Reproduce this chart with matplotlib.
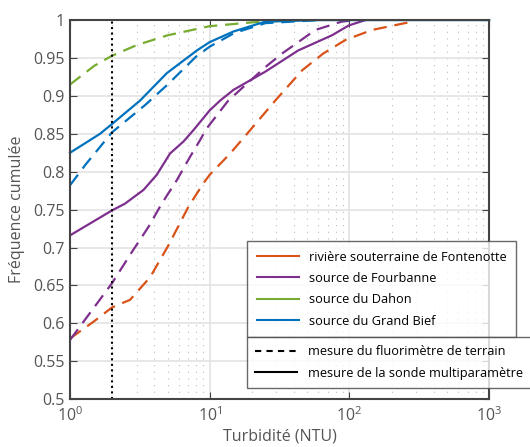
import numpy as np
import matplotlib.pyplot as plt
from matplotlib.lines import Line2D

plt.rcParams['font.family'] = ['Open Sans', 'DejaVu Sans']

# couleurs des sites
c_font = '#D95319'
c_fourb = '#7E2F8E'
c_dahon = '#77AC30'
c_gbief = '#0072BD'

# rivière souterraine de Fontenotte (fluorimètre)
font_x = [1, 1.47, 2, 2.69, 3.75, 5.07, 7.05, 9.03, 10, 14, 18.5, 29.5, 46, 65, 94, 145, 281]
font_y = [0.58, 0.602, 0.621, 0.631, 0.661, 0.703, 0.754, 0.785, 0.796, 0.824, 0.85, 0.894, 0.934, 0.956, 0.974, 0.987, 0.998]

# source de Fourbanne
fourb_x = [1, 2, 2.48, 3.36, 4.18, 5.2, 6.5, 7.66, 10, 11.9, 14.8, 25, 43, 75, 99, 130]
fourb_y = [0.716, 0.749, 0.758, 0.776, 0.796, 0.824, 0.84, 0.855, 0.881, 0.894, 0.908, 0.932, 0.960, 0.980, 0.993, 1.0]
fourb_fx = [1, 2, 2.84, 3.64, 4.54, 5.82, 7.25, 8.55, 9.5, 13.6, 25, 33, 57, 88, 110]
fourb_fy = [0.578, 0.653, 0.697, 0.727, 0.758, 0.789, 0.82, 0.842, 0.857, 0.894, 0.938, 0.956, 0.987, 0.998, 1.0]

# source du Dahon
dahon_fx = [1, 1.5, 2, 3, 5, 10, 20, 40]
dahon_fy = [0.915, 0.94, 0.953, 0.967, 0.98, 0.992, 0.997, 1.0]

# source du Grand Bief
gbief_x = [1, 1.64, 2, 3.18, 4.93, 8.1, 10, 14.8, 25, 60, 1000]
gbief_y = [0.825, 0.85, 0.863, 0.894, 0.93, 0.96, 0.971, 0.985, 0.998, 1.0, 1.0]
gbief_fx = [1, 1.3, 2, 3.45, 5, 8, 10, 15, 25, 60]
gbief_fy = [0.782, 0.81, 0.852, 0.888, 0.915, 0.952, 0.965, 0.983, 0.996, 1.0]

fig = plt.figure(figsize=(5.3, 4.47), dpi=100)
ax = fig.add_axes([0.132, 0.107, 0.791, 0.848])

dash = (6, 3.5)
lw = 1.6
ax.plot(font_x, font_y, color=c_font, lw=lw, dashes=dash)
ax.plot(fourb_fx, fourb_fy, color=c_fourb, lw=lw, dashes=dash)
ax.plot(fourb_x, fourb_y, color=c_fourb, lw=lw)
ax.plot(dahon_fx, dahon_fy, color=c_dahon, lw=lw, dashes=dash)
ax.plot(gbief_fx, gbief_fy, color=c_gbief, lw=lw, dashes=dash)
ax.plot(gbief_x, gbief_y, color=c_gbief, lw=lw, clip_on=False)
ax.axvline(2, color='black', ls=':', lw=1.5)

ax.set_xscale('log')
ax.set_xlim(1, 1000)
ax.set_ylim(0.5, 1)
ax.set_yticks(np.arange(0.5, 1.001, 0.05))
ax.set_yticklabels(['0.5', '0.55', '0.6', '0.65', '0.7', '0.75', '0.8', '0.85', '0.9', '0.95', '1'])

ax.grid(True, which='major', color='#e3e3e3', lw=1.2, ls='-')
ax.grid(True, which='minor', axis='x', color='#bbbbbb', lw=0.8, ls=(0, (1, 5)))
ax.set_axisbelow(True)

for s in ax.spines.values():
    s.set_color('#444444')
    s.set_linewidth(1.5)
ax.tick_params(which='both', direction='in', top=True, right=True, colors='#444444',
               labelcolor='#555555', labelsize=11.5)
ax.tick_params(which='major', length=5)
ax.tick_params(which='minor', length=0)
ax.tick_params(axis='x', pad=5)

ax.set_xlabel('Turbidité (NTU)', fontsize=11.5, color='#555555', labelpad=3)
ax.set_ylabel('Fréquence cumulée', fontsize=11.5, color='#555555', labelpad=6)

h1 = [Line2D([], [], color=c, lw=1.5) for c in [c_font, c_fourb, c_dahon, c_gbief]]
l1 = ['rivière souterraine de Fontenotte', 'source de Fourbanne', 'source du Dahon', 'source du Grand Bief']
leg1 = fig.legend(h1, l1, loc='upper left', bbox_to_anchor=(247 / 530, 1 - 241 / 447),
                  fontsize=9.2, frameon=True, fancybox=False, edgecolor='#444444',
                  handlelength=3.3, labelspacing=0.65, borderaxespad=0, borderpad=0.75)
leg1.get_frame().set_linewidth(1.0)

fig.canvas.draw()
bb = leg1.get_window_extent()
y2 = bb.y0 / fig.bbox.height

h2 = [Line2D([], [], color='black', lw=1.5, dashes=(3, 2.5)), Line2D([], [], color='black', lw=1.5)]
l2 = ['mesure du fluorimètre de terrain', 'mesure de la sonde multiparamètre']
leg2 = fig.legend(h2, l2, loc='upper left', bbox_to_anchor=(247 / 530, y2),
                  fontsize=9.2, frameon=True, fancybox=False, edgecolor='#444444',
                  handlelength=3.3, labelspacing=0.65, borderaxespad=0, borderpad=0.65)
leg2.get_frame().set_linewidth(1.0)

fig.savefig('out.png', dpi=100)
